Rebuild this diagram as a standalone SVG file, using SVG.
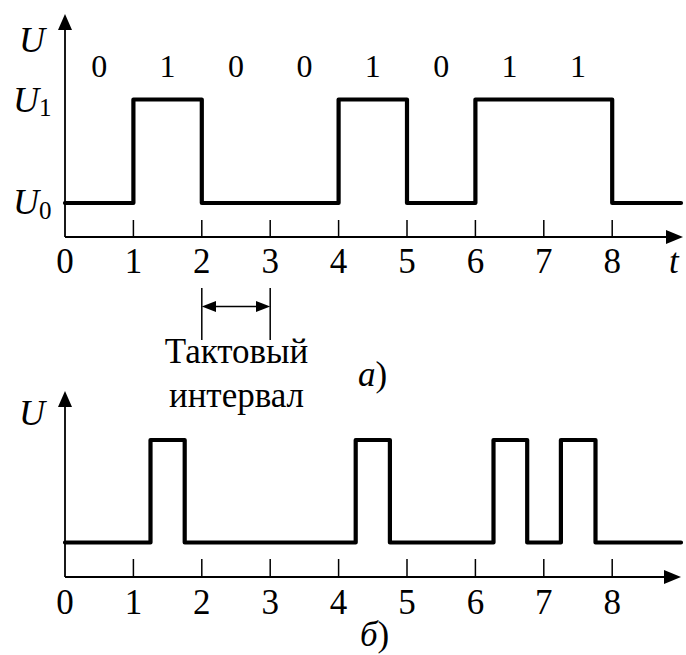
<svg xmlns="http://www.w3.org/2000/svg" width="686" height="655" viewBox="0 0 686 655">
<style>
text{font-family:"Liberation Serif","Times New Roman",serif;fill:#000}
.it{font-style:italic}
.lbl{font-size:32px;text-anchor:middle}
.ax{font-size:35px;text-anchor:middle}
.big{font-size:35px}
.U{font-size:36px;font-style:italic}
.sub{font-size:25px}
.axis{stroke:#000;stroke-width:1.8;fill:none}
.tick{stroke:#000;stroke-width:1.5;fill:none}
.sig{stroke:#000;stroke-width:4.2;fill:none;stroke-linejoin:round;stroke-linecap:round}
.ah{fill:#000}
</style>
<g id="graph-a">
  <g id="axes-a">
    <line class="axis" x1="65" y1="237" x2="65" y2="28"/>
    <polygon class="ah" points="65,14 58,30 72,30"/>
    <line class="axis" x1="65" y1="237" x2="668" y2="237"/>
    <polygon class="ah" points="683,237 666,230 666,244"/>
  </g>
  <g id="ticks-a">
    <line class="tick" x1="133.4" y1="220" x2="133.4" y2="237"/>
    <line class="tick" x1="201.8" y1="220" x2="201.8" y2="237"/>
    <line class="tick" x1="270.2" y1="220" x2="270.2" y2="237"/>
    <line class="tick" x1="338.6" y1="220" x2="338.6" y2="237"/>
    <line class="tick" x1="407" y1="220" x2="407" y2="237"/>
    <line class="tick" x1="475.4" y1="220" x2="475.4" y2="237"/>
    <line class="tick" x1="543.8" y1="220" x2="543.8" y2="237"/>
    <line class="tick" x1="612.2" y1="220" x2="612.2" y2="237"/>
  </g>
  <path id="signal-a" class="sig" d="M65,203 H133.4 V99.5 H201.8 V203 H338.6 V99.5 H407 V203 H475.4 V99.5 H612.2 V203 H681"/>
  <g id="labels-a">
    <text class="U" x="19" y="52">U</text>
    <text x="13" y="112"><tspan class="U">U</tspan><tspan class="sub" dy="4">1</tspan></text>
    <text x="13" y="214"><tspan class="U">U</tspan><tspan class="sub" dy="5">0</tspan></text>
    <text class="lbl" y="77"><tspan x="99.2">0</tspan><tspan x="167.6">1</tspan><tspan x="236">0</tspan><tspan x="304.4">0</tspan><tspan x="372.8">1</tspan><tspan x="441.2">0</tspan><tspan x="509.6">1</tspan><tspan x="578">1</tspan></text>
    <text class="ax" y="273"><tspan x="65">0</tspan><tspan x="133.4">1</tspan><tspan x="201.8">2</tspan><tspan x="270.2">3</tspan><tspan x="338.6">4</tspan><tspan x="407">5</tspan><tspan x="475.4">6</tspan><tspan x="543.8">7</tspan><tspan x="612.2">8</tspan></text>
    <text class="big it" x="669" y="273">t</text>
  </g>
  <g id="interval">
    <line class="tick" x1="201.8" y1="288" x2="201.8" y2="340"/>
    <line class="tick" x1="270.2" y1="288" x2="270.2" y2="340"/>
    <line class="tick" x1="214" y1="306.5" x2="258" y2="306.5"/>
    <polygon class="ah" points="201.8,306.5 216,301 216,312"/>
    <polygon class="ah" points="270.2,306.5 256,301 256,312"/>
    <text class="big" x="236.5" y="363" text-anchor="middle">Тактовый</text>
    <text class="big" x="236.5" y="407" text-anchor="middle">интервал</text>
  </g>
  <text id="caption-a" class="big" x="358" y="386"><tspan class="it">а</tspan>)</text>
</g>
<g id="graph-b">
  <g id="axes-b">
    <line class="axis" x1="65" y1="577" x2="65" y2="405"/>
    <polygon class="ah" points="65,391 58,407 72,407"/>
    <line class="axis" x1="65" y1="577" x2="666" y2="577"/>
    <polygon class="ah" points="681,577 664,570 664,584"/>
  </g>
  <g id="ticks-b">
    <line class="tick" x1="133.4" y1="559" x2="133.4" y2="577"/>
    <line class="tick" x1="201.8" y1="559" x2="201.8" y2="577"/>
    <line class="tick" x1="270.2" y1="559" x2="270.2" y2="577"/>
    <line class="tick" x1="338.6" y1="559" x2="338.6" y2="577"/>
    <line class="tick" x1="407" y1="559" x2="407" y2="577"/>
    <line class="tick" x1="475.4" y1="559" x2="475.4" y2="577"/>
    <line class="tick" x1="543.8" y1="559" x2="543.8" y2="577"/>
    <line class="tick" x1="612.2" y1="559" x2="612.2" y2="577"/>
  </g>
  <path id="signal-b" class="sig" d="M65,542.5 H150.5 V440 H184.7 V542.5 H355.7 V440 H389.9 V542.5 H493.5 V440 H527.2 V542.5 H560.9 V440 H595.5 V542.5 H681"/>
  <g id="labels-b">
    <text class="U" x="19" y="425">U</text>
    <text class="ax" y="614"><tspan x="65">0</tspan><tspan x="133.4">1</tspan><tspan x="201.8">2</tspan><tspan x="270.2">3</tspan><tspan x="338.6">4</tspan><tspan x="407">5</tspan><tspan x="475.4">6</tspan><tspan x="543.8">7</tspan><tspan x="612.2">8</tspan></text>
  </g>
  <text id="caption-b" class="big" x="360" y="646"><tspan class="it">б</tspan>)</text>
</g>
</svg>
